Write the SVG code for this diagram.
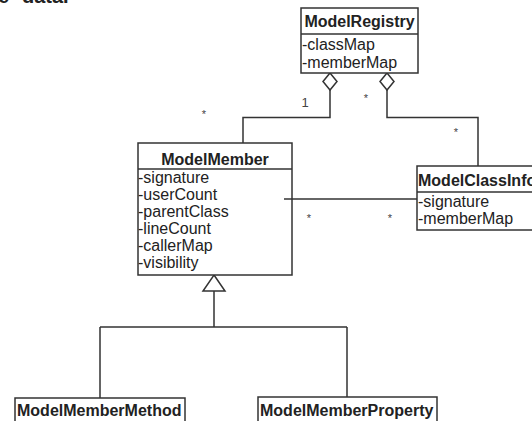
<svg xmlns="http://www.w3.org/2000/svg" width="532" height="421" viewBox="0 0 532 421">
<style>
.box{fill:#fff;stroke:#333;stroke-width:1.5}
.ln{fill:none;stroke:#333;stroke-width:1.5}
.t{font-family:"Liberation Sans",Arial,sans-serif;font-size:16px;fill:#222}
.b{font-weight:bold}
.m{font-family:"Liberation Sans",Arial,sans-serif;font-size:11px;fill:#444}
</style>
<rect width="532" height="421" fill="#fff"/>
<text class="t b" x="-2" y="3" style="font-size:20px">e</text>
<text class="t b" x="22" y="3" style="font-size:20px">data.</text>
<g id="connectors">
<path class="ln" d="M330,90 V117.5 H243 V143"/>
<path class="ln" d="M387,90 V117.5 H478 V166"/>
<path class="ln" d="M284,199 H417"/>
<path class="ln" d="M214,291 V327 M100,327 H347 M100,327 V398 M347,327 V397"/>
<polygon class="box" points="330,73 337,81.5 330,90 323,81.5"/>
<polygon class="box" points="387,73 394,81.5 387,90 380,81.5"/>
<polygon class="box" points="214,275 225,291 203,291"/>
<text class="m" x="305" y="107" text-anchor="middle" style="font-size:13px">1</text>
<text class="m" x="204" y="118" text-anchor="middle">*</text>
<text class="m" x="366" y="102" text-anchor="middle">*</text>
<text class="m" x="456" y="136" text-anchor="middle">*</text>
<text class="m" x="309" y="222" text-anchor="middle">*</text>
<text class="m" x="390" y="222" text-anchor="middle">*</text>
</g>
<g id="ModelRegistry">
<rect class="box" x="301" y="8" width="117" height="65"/>
<line class="ln" x1="301" y1="34" x2="418" y2="34"/>
<text class="t b" x="359.5" y="27" text-anchor="middle">ModelRegistry</text>
<text class="t" x="302" y="50">-classMap</text>
<text class="t" x="302" y="68">-memberMap</text>
</g>
<g id="ModelMember">
<rect class="box" x="138" y="143" width="154" height="132"/>
<line class="ln" x1="138" y1="169" x2="292" y2="169"/>
<text class="t b" x="215" y="165" text-anchor="middle">ModelMember</text>
<text class="t" x="138" y="182.5">-signature</text>
<text class="t" x="138" y="199.5">-userCount</text>
<text class="t" x="138" y="216.5">-parentClass</text>
<text class="t" x="138" y="233.5">-lineCount</text>
<text class="t" x="138" y="251">-callerMap</text>
<text class="t" x="138" y="268">-visibility</text>
</g>
<line class="ln" x1="284" y1="199" x2="292" y2="199"/>
<g id="ModelClassInfo">
<rect class="box" x="417" y="166" width="130" height="64"/>
<line class="ln" x1="417" y1="192" x2="547" y2="192"/>
<text class="t b" x="418" y="186">ModelClassInfo</text>
<text class="t" x="418" y="207">-signature</text>
<text class="t" x="418" y="224">-memberMap</text>
</g>
<g id="ModelMemberMethod">
<rect class="box" x="15" y="398" width="170" height="40"/>
<text class="t b" x="17" y="416">ModelMemberMethod</text>
</g>
<g id="ModelMemberProperty">
<rect class="box" x="258" y="397" width="179" height="40"/>
<text class="t b" x="260" y="416">ModelMemberProperty</text>
</g>
</svg>
